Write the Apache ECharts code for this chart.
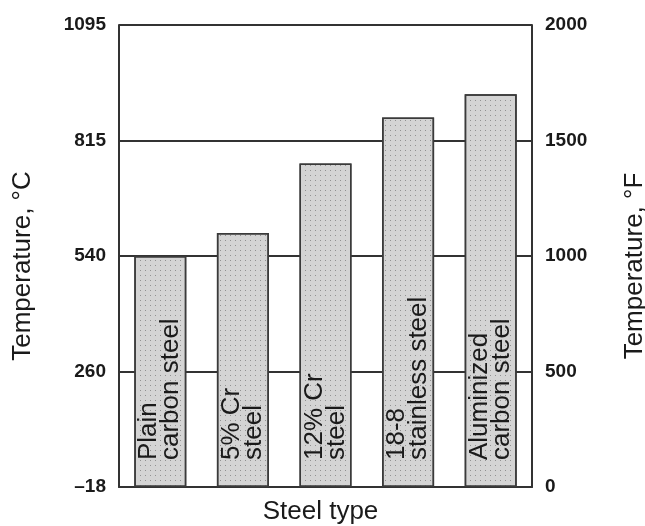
<!DOCTYPE html>
<html>
<head>
<meta charset="utf-8">
<script src="https://cdn.jsdelivr.net/npm/echarts@6/dist/echarts.min.js"></script>
<style>
  html, body { margin: 0; padding: 0; background: #fff; }
  #chart { width: 645px; height: 526px; }
</style>
</head>
<body>
<div id="chart"></div>
<script>
const categories = ['Plain\ncarbon steel', '5% Cr\nsteel', '12% Cr\nsteel', '18-8\nstainless steel', 'Aluminized\ncarbon steel'];
const tempF = [1000, 1100, 1400, 1600, 1700];
const fTicks = ['0', '500', '1000', '1500', '2000'];
const cTicks = ['\u201318', '260', '540', '815', '1095'];
const xTitle = 'Steel type';
const leftTitle = 'Temperature, \u00B0C';
const rightTitle = 'Temperature, \u00B0F';

const FONT = '"Liberation Sans", Arial, sans-serif';
const LINE = '#333';
const TXT = '#1a1a1a';

const chart = echarts.init(document.getElementById('chart'), null, { renderer: 'canvas' });
const tickIdx = v => Math.round(v / 500);

chart.setOption({
  animation: false,
  backgroundColor: '#fff',
  grid: { left: 119, right: 113, top: 25, bottom: 39, containLabel: false, outerBoundsMode: 'none' },
  xAxis: {
    type: 'category',
    data: categories,
    name: xTitle,
    nameLocation: 'middle',
    nameGap: 12,
    nameTextStyle: { fontFamily: FONT, fontSize: 26, color: TXT, verticalAlign: 'top', padding: [0, 10, 0, 0] },
    axisLine: { show: true, lineStyle: { color: LINE, width: 2 } },
    axisTick: { show: false },
    axisLabel: { show: false },
    splitLine: { show: false }
  },
  yAxis: [
    {
      type: 'value', position: 'left', min: 0, max: 2000, interval: 500,
      name: leftTitle, nameLocation: 'middle', nameRotate: 90, nameGap: 83,
      nameTextStyle: { fontFamily: FONT, fontSize: 26, color: TXT, padding: [0, 20, 0, 0] },
      axisLine: { show: true, lineStyle: { color: LINE, width: 2 } },
      axisTick: { show: false },
      axisLabel: { margin: 13, fontFamily: FONT, fontSize: 19, fontWeight: 'bold', color: TXT,
        formatter: v => cTicks[tickIdx(v)] },
      splitLine: { show: true, lineStyle: { color: LINE, width: 2 } }
    },
    {
      type: 'value', position: 'right', min: 0, max: 2000, interval: 500,
      name: rightTitle, nameLocation: 'middle', nameRotate: 90, nameGap: 90,
      nameTextStyle: { fontFamily: FONT, fontSize: 26, color: TXT, padding: [0, 20, 0, 0] },
      axisLine: { show: true, lineStyle: { color: LINE, width: 2 } },
      axisTick: { show: false },
      axisLabel: { margin: 13, fontFamily: FONT, fontSize: 19, fontWeight: 'bold', color: TXT,
        formatter: v => fTicks[tickIdx(v)] },
      splitLine: { show: false }
    }
  ],
  series: [{
    type: 'bar',
    yAxisIndex: 1,
    data: tempF,
    barWidth: 52,
    itemStyle: {
      color: '#d4d4d4', borderColor: '#3a3a3a', borderWidth: 1.5,
      decal: { symbol: 'rect', symbolSize: 1, dashArrayX: [1, 4], dashArrayY: [1, 4], color: 'rgba(90,90,90,0.55)', rotation: 0 }
    },
    label: {
      show: true,
      position: 'insideBottom',
      rotate: 90,
      align: 'left',
      verticalAlign: 'middle',
      distance: 27,
      fontFamily: FONT,
      fontSize: 26,
      lineHeight: 22,
      color: TXT,
      formatter: p => categories[p.dataIndex]
    }
  }]
});
</script>
</body>
</html>
